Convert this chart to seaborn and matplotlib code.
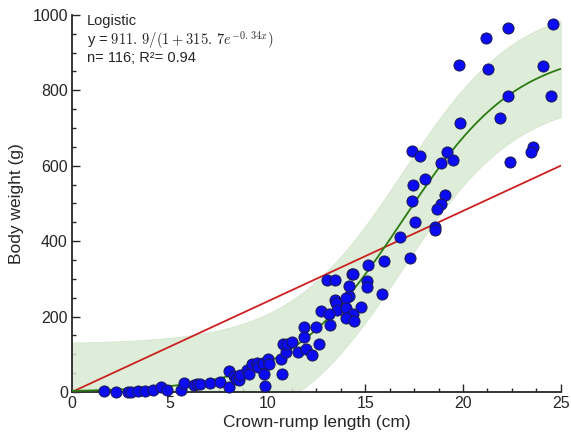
import numpy as np
import pandas as pd
import matplotlib
matplotlib.use("Agg")
import matplotlib.pyplot as plt
from matplotlib.ticker import MultipleLocator
import seaborn as sns

# Points (longueur vertex-coccyx en cm, poids en g)
crl = [1.65, 2.23, 2.85, 3.0, 3.36, 3.73, 4.16, 4.55, 4.84, 5.57,
       5.74, 6.24, 6.42, 6.56, 7.06, 7.57,
       8.04, 8.04, 8.28, 8.37, 8.55, 8.59, 8.96, 9.07, 9.19, 9.47,
       9.53, 9.78, 9.87, 9.83, 10.04, 10.09, 10.69, 10.72, 10.77, 10.94,
       10.98, 11.27, 11.57, 11.88, 11.88, 11.95, 12.29, 12.46, 12.64, 12.76,
       13.05, 13.45, 14.30, 14.38, 14.18, 15.07, 15.07, 15.88, 13.45, 13.53,
       14.18, 14.04, 13.58, 14.04, 14.76, 13.15, 14.35, 14.04, 14.43, 13.19,
       15.15, 15.95, 16.77, 17.28,
       17.37, 17.79, 19.19, 19.5, 18.87, 18.08, 17.45, 17.37, 19.07, 18.9,
       18.67, 17.57, 18.57, 18.59, 19.87, 19.78,
       21.17, 22.31, 24.61, 21.28, 24.1, 22.31, 24.49, 21.88, 23.58, 23.47, 22.39]
weight = [3, 1, 1, 1, 3, 3, 5, 13, 5, 5,
          23, 18, 20, 22, 23, 26,
          56, 12, 42, 34, 32, 44, 57, 47, 74, 78,
          66, 76, 17, 48, 87, 74, 87, 47, 127, 107,
          126, 132, 107, 172, 145, 115, 98, 172, 127, 216,
          297, 297, 313, 313, 281, 295, 279, 260, 244, 235,
          255, 249, 217, 222, 225, 206, 207, 196, 187, 177,
          337, 347, 412, 356,
          638, 626, 635, 615, 606, 565, 549, 507, 521, 498,
          486, 451, 437, 430, 712, 866,
          938, 966, 975, 856, 865, 785, 785, 727, 649, 637, 611]

# Modeles affiches
logi_a, logi_b, logi_k = 911.9, 315.7, 0.34
lin_slope = 24.0
band_half = 128.0

pts = pd.DataFrame({"crl": crl, "weight": weight})
xs = np.linspace(0, 25, 300)
fit = pd.DataFrame({"x": xs,
                    "logi": logi_a / (1 + logi_b * np.exp(-logi_k * xs)),
                    "lin": lin_slope * xs})

sns.set_style("ticks")
plt.rcParams["font.family"] = ["Liberation Sans", "DejaVu Sans"]
plt.rcParams["mathtext.fontset"] = "cm"

fig = plt.figure(figsize=(5.71, 4.36), dpi=100)
ax = fig.add_axes([0.126, 0.101, 0.856, 0.865])

ax.fill_between(fit["x"], fit["logi"] - band_half, fit["logi"] + band_half,
                color="#d9ead3", alpha=0.85, linewidth=0.6, edgecolor="#cfe3c8", zorder=1)
sns.lineplot(data=fit, x="x", y="lin", color="#cc2020", linewidth=1.3, ax=ax, zorder=2)
sns.lineplot(data=fit, x="x", y="logi", color="#2b7a12", linewidth=1.3, ax=ax, zorder=3)
sns.scatterplot(data=pts, x="crl", y="weight", color="#0c0cf2", edgecolor="#1a1a50",
                linewidth=0.7, s=64, ax=ax, zorder=4, clip_on=False)

ax.set_xlim(0, 25)
ax.set_ylim(0, 1000)
ax.xaxis.set_major_locator(MultipleLocator(5))
ax.xaxis.set_minor_locator(MultipleLocator(1.25))
ax.yaxis.set_major_locator(MultipleLocator(200))
ax.yaxis.set_minor_locator(MultipleLocator(50))
ax.tick_params(which="both", direction="in", width=1.0, labelsize=11.5, pad=3)
ax.tick_params(which="major", length=6)
ax.tick_params(which="minor", length=3)
for s in ["left", "bottom"]:
    ax.spines[s].set_linewidth(1.3)
sns.despine(ax=ax)

ax.set_xlabel("Crown-rump length (cm)", fontsize=12.5, labelpad=3)
ax.set_ylabel("Body weight (g)", fontsize=12.5, labelpad=6)

ax.text(0.03, 0.973, "Logistic", transform=ax.transAxes, va="baseline", ha="left", fontsize=10.5)
ax.text(0.03, 0.922, r"y = $911.\,9/(1+315.\,7e^{-0.\,34x})$", transform=ax.transAxes,
        va="baseline", ha="left", fontsize=10.5)
ax.text(0.03, 0.874, "n= 116; R²= 0.94", transform=ax.transAxes, va="baseline", ha="left",
        fontsize=10.5)

fig.savefig("out.png", dpi=100)
